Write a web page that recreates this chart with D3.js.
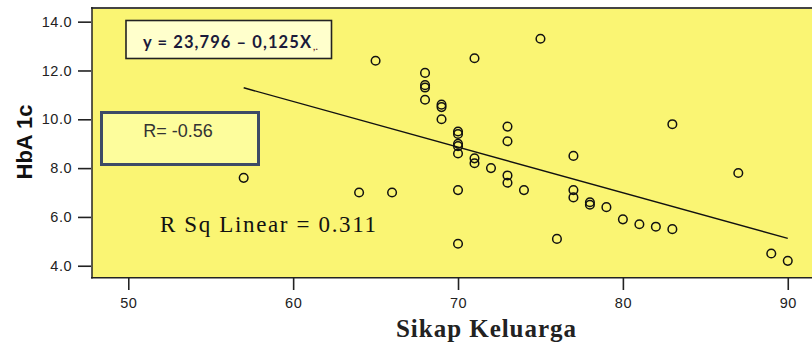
<!DOCTYPE html>
<html><head><meta charset="utf-8">
<script src="https://cdn.jsdelivr.net/npm/d3@7"></script>
<style>body{margin:0;background:#fff}svg{display:block}</style>
</head><body>
<script>
// Data
const sikapKeluarga = [57,64,66,65,71,75,68,68,68,68,69,69,69,70,70,70,70,70,70,70,71,71,72,73,73,73,73,74,76,77,77,77,78,78,79,80,81,82,83,83,87,89,90];
const hba1c        = [7.6,7.0,7.0,12.4,12.5,13.3,11.9,11.4,11.3,10.8,10.6,10.5,10.0,9.5,9.4,9.0,8.9,8.6,7.1,4.9,8.4,8.2,8.0,9.7,9.1,7.7,7.4,7.1,5.1,8.5,7.1,6.8,6.6,6.5,6.4,5.9,5.7,5.6,5.5,9.8,7.8,4.5,4.2];
const fitIntercept = 21.95, fitSlope = -0.187, fitRange = [57, 90];
const xTicks = [50,60,70,80,90];
const yTicks = [4,6,8,10,12,14];
const xTitle = "Sikap Keluarga", yTitle = "HbA 1c";
const rText = "R= -0.56", rsqText = "R Sq Linear = 0.311";

const W = 812, H = 347;
const svg = d3.select("body").append("svg").attr("width", W).attr("height", H);
const x = d3.scaleLinear().domain([47.8, 91.47]).range([92, 812]);
const y = d3.scaleLinear().domain([3.51, 14.56]).range([277.7, 8]);

// plot background
svg.append("rect").attr("x", 92).attr("y", 8).attr("width", W - 92).attr("height", 269.7)
  .attr("fill", "#FAF573");
// borders
svg.append("line").attr("x1", 91).attr("x2", W).attr("y1", 8).attr("y2", 8).attr("stroke", "#444").attr("stroke-width", 2);
svg.append("line").attr("x1", 92).attr("x2", 92).attr("y1", 7).attr("y2", 278.5).attr("stroke", "#222").attr("stroke-width", 1.5);
svg.append("line").attr("x1", 91).attr("x2", W).attr("y1", 277.7).attr("y2", 277.7).attr("stroke", "#222").attr("stroke-width", 1.5);

// axes
const yAxis = svg.append("g").attr("transform", "translate(91,0)")
  .call(d3.axisLeft(y).tickValues(yTicks).tickFormat(d3.format(".1f")).tickSize(13).tickPadding(6));
const xAxis = svg.append("g").attr("transform", "translate(0,278)")
  .call(d3.axisBottom(x).tickValues(xTicks).tickFormat(d3.format("d")).tickSize(12).tickPadding(8));
[yAxis, xAxis].forEach(g => {
  g.select(".domain").remove();
  g.selectAll(".tick line").attr("stroke", "#222").attr("stroke-width", 1.6);
  g.selectAll(".tick text").attr("font-family", "Liberation Sans, Arial, sans-serif")
    .attr("font-size", 14.5).attr("fill", "#222").attr("letter-spacing", 0.5);
});

// fit line
svg.append("line")
  .attr("x1", x(fitRange[0])).attr("y1", y(fitIntercept + fitSlope * fitRange[0]))
  .attr("x2", x(fitRange[1])).attr("y2", y(fitIntercept + fitSlope * fitRange[1]))
  .attr("stroke", "#111").attr("stroke-width", 1.4);

// points
svg.append("g").selectAll("circle").data(sikapKeluarga.map((d, i) => [d, hba1c[i]]))
  .join("circle").attr("cx", d => x(d[0])).attr("cy", d => y(d[1])).attr("r", 4.3)
  .attr("fill", "none").attr("stroke", "#111").attr("stroke-width", 1.5);

// equation box
svg.append("rect").attr("x", 126).attr("y", 20.5).attr("width", 205.5).attr("height", 38)
  .attr("fill", "#FFFFCC").attr("stroke", "#222").attr("stroke-width", 1.6);
const eq = svg.append("text").attr("x", 143).attr("y", 47.5)
  .attr("font-family", "Lato, Open Sans, sans-serif").attr("font-weight", "bold")
  .attr("font-size", 16.5).attr("fill", "#1a1a3a");
eq.append("tspan").attr("textLength", 168).text("y = 23,796 \u2013 0,125X");
eq.append("tspan").attr("font-size", 10).attr("dy", 2).attr("dx", 1).attr("fill", "#6a2a2a").text(",.");

// R box
svg.append("rect").attr("x", 101.5).attr("y", 112.5).attr("width", 157).attr("height", 52)
  .attr("fill", "#FDFD9C").attr("stroke", "#3D4B66").attr("stroke-width", 3);
svg.append("text").attr("x", 178).attr("y", 137).attr("text-anchor", "middle")
  .attr("font-family", "Liberation Sans, Arial, sans-serif").attr("font-size", 18)
  .attr("fill", "#333").text(rText);

// R Sq text
svg.append("text").attr("x", 160).attr("y", 232).attr("textLength", 216)
  .attr("font-family", "Liberation Serif, Times New Roman, serif").attr("font-size", 23)
  .attr("fill", "#111").text(rsqText);

// axis titles
svg.append("text").attr("x", 486).attr("y", 337).attr("text-anchor", "middle")
  .attr("textLength", 180)
  .attr("font-family", "Liberation Serif, Times New Roman, serif").attr("font-weight", "bold")
  .attr("font-size", 25).attr("fill", "#222").text(xTitle);
svg.append("text").attr("transform", "translate(32,142) rotate(-90)").attr("text-anchor", "middle")
  .attr("font-family", "Liberation Sans, Arial, sans-serif").attr("font-weight", "bold")
  .attr("font-size", 22).attr("fill", "#111").text(yTitle);
</script>
</body></html>
